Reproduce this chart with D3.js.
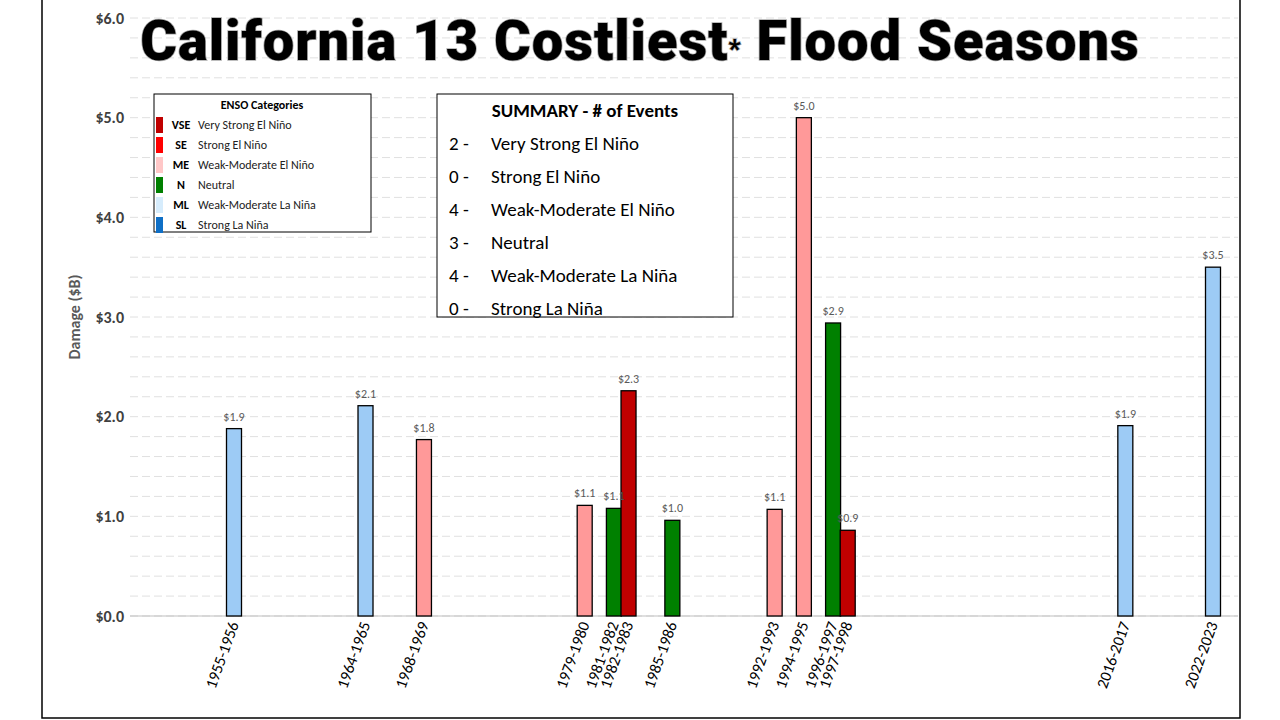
<!DOCTYPE html>
<html><head><meta charset="utf-8">
<script src="https://cdn.jsdelivr.net/npm/d3@7"></script>
<style>body{margin:0;background:#fff;font-family:Calibri,"Open Sans",sans-serif}</style>
</head><body><svg id="c" width="1280" height="720"></svg>
<script>
var seasons = ["1955-1956","1964-1965","1968-1969","1979-1980","1981-1982","1982-1983","1985-1986","1992-1993","1994-1995","1996-1997","1997-1998","2016-2017","2022-2023"];
var damage = [1.88,2.11,1.77,1.11,1.08,2.26,0.96,1.07,5.0,2.94,0.86,1.91,3.5];
var enso = ["ML","ML","ME","ME","N","VSE","N","ME","ME","N","VSE","ML","ML"];
var yTicks = [0,1,2,3,4,5,6];
var legendCodes = ["VSE","SE","ME","N","ML","SL"];
var legendNames = ["Very Strong El Niño","Strong El Niño","Weak-Moderate El Niño","Neutral","Weak-Moderate La Niña","Strong La Niña"];
var summaryCounts = [2,0,4,3,4,0];

var colors = {VSE:"#c00000",SE:"#ff0000",ME:"#ff9999",N:"#008000",ML:"#9dcbf5",SL:"#0f6fc6"};
var legendColors = {VSE:"#c00000",SE:"#ff0000",ME:"#ffc7c7",N:"#008000",ML:"#d6ecfc",SL:"#0f6fc6"};

var svg = d3.select("#c");
svg.append("rect").attr("x",42).attr("y",-2).attr("width",1198).attr("height",720)
  .attr("fill","none").attr("stroke","#000").attr("stroke-width",1.5);

var x = d3.scaleLinear().domain([1955,2022]).range([234,1213]);
var y = d3.scaleLinear().domain([0,6]).range([616,18]);
var bw = 15;

// gridlines
var minor = d3.range(0,6.01,0.2);
svg.append("g").selectAll("line").data(minor).join("line")
  .attr("x1",130).attr("x2",1238).attr("y1",d=>y(d)).attr("y2",d=>y(d))
  .attr("stroke","#e0e0e0").attr("stroke-dasharray","8 4").attr("stroke-width",1);

// y axis
var yAxis = svg.append("g").attr("transform","translate(130,0)")
  .call(d3.axisLeft(y).tickValues(yTicks).tickSize(0).tickPadding(6).tickFormat(d=>"$"+d3.format(".1f")(d)));
yAxis.select(".domain").remove();
yAxis.selectAll("text").attr("font-size",16).attr("font-weight","bold").attr("fill","#404040")
  .attr("font-family","Calibri,'Open Sans',sans-serif");
svg.append("line").attr("x1",130).attr("x2",1238).attr("y1",y(0)).attr("y2",y(0)).attr("stroke","#bfbfbf");

svg.append("text").attr("transform","translate(80,"+y(3)+") rotate(-90)").attr("text-anchor","middle")
  .attr("font-size",16).attr("font-weight","bold").attr("fill","#595959").text("Damage ($B)");

// bars
var yr = s => +s.slice(0,4);
svg.append("g").selectAll("rect").data(seasons).join("rect")
  .attr("x",(d)=>x(yr(d))-bw/2).attr("width",bw)
  .attr("y",(d,i)=>y(damage[i])).attr("height",(d,i)=>y(0)-y(damage[i]))
  .attr("fill",(d,i)=>colors[enso[i]]).attr("stroke","#000").attr("stroke-width",1.3);

svg.append("g").selectAll("text").data(seasons).join("text")
  .attr("x",d=>x(yr(d))).attr("y",(d,i)=>y(damage[i])-8).attr("text-anchor","middle")
  .attr("font-size",12).attr("fill","#595959").text((d,i)=>"$"+d3.format(".1f")(damage[i]));

svg.append("g").selectAll("text").data(seasons).join("text")
  .attr("transform",d=>"translate("+(x(yr(d))+5)+",624) rotate(-70)").attr("text-anchor","end")
  .attr("font-size",16).attr("fill","#000").text(d=>d);

// title
svg.append("text").attr("x",640).attr("y",60).attr("text-anchor","middle")
  .attr("font-family","Roboto,sans-serif").attr("font-weight",900).attr("font-size",56)
  .attr("fill","#000").attr("stroke","#aaa").attr("stroke-width",1.5).attr("paint-order","stroke")
  .attr("letter-spacing",1)
  .html('California 13 Costliest<tspan font-size="26" dy="-2">*</tspan><tspan dy="2"> Flood Seasons</tspan>');

// legend
var lg = svg.append("g").attr("transform","translate(154,94)");
lg.append("rect").attr("width",217).attr("height",138).attr("fill","#fff").attr("stroke","#000");
lg.append("text").attr("x",108).attr("y",15).attr("text-anchor","middle").attr("font-size",12).attr("font-weight","bold").text("ENSO Categories");
var li = lg.selectAll("g.li").data(legendCodes).join("g").attr("transform",(d,i)=>"translate(2,"+(23+i*20)+")");
li.append("rect").attr("width",7).attr("height",16).attr("fill",d=>legendColors[d]);
li.append("text").attr("x",25).attr("y",12).attr("text-anchor","middle").attr("font-size",12).attr("font-weight","bold").text(d=>d);
li.append("text").attr("x",42).attr("y",12).attr("font-size",12).attr("fill","#222").text((d,i)=>legendNames[i]);

// summary
var sg = svg.append("g").attr("transform","translate(437,94)");
sg.append("rect").attr("width",296).attr("height",223).attr("fill","#fff").attr("stroke","#000");
sg.append("text").attr("x",148).attr("y",23).attr("text-anchor","middle").attr("font-size",19).attr("font-weight","bold").text("SUMMARY - # of Events");
var si = sg.selectAll("g.si").data(legendNames).join("g").attr("transform",(d,i)=>"translate(0,"+(56+i*33)+")");
si.append("text").attr("x",12).attr("font-size",19).text((d,i)=>summaryCounts[i]+" -");
si.append("text").attr("x",54).attr("font-size",19).text(d=>d);
</script></body></html>
